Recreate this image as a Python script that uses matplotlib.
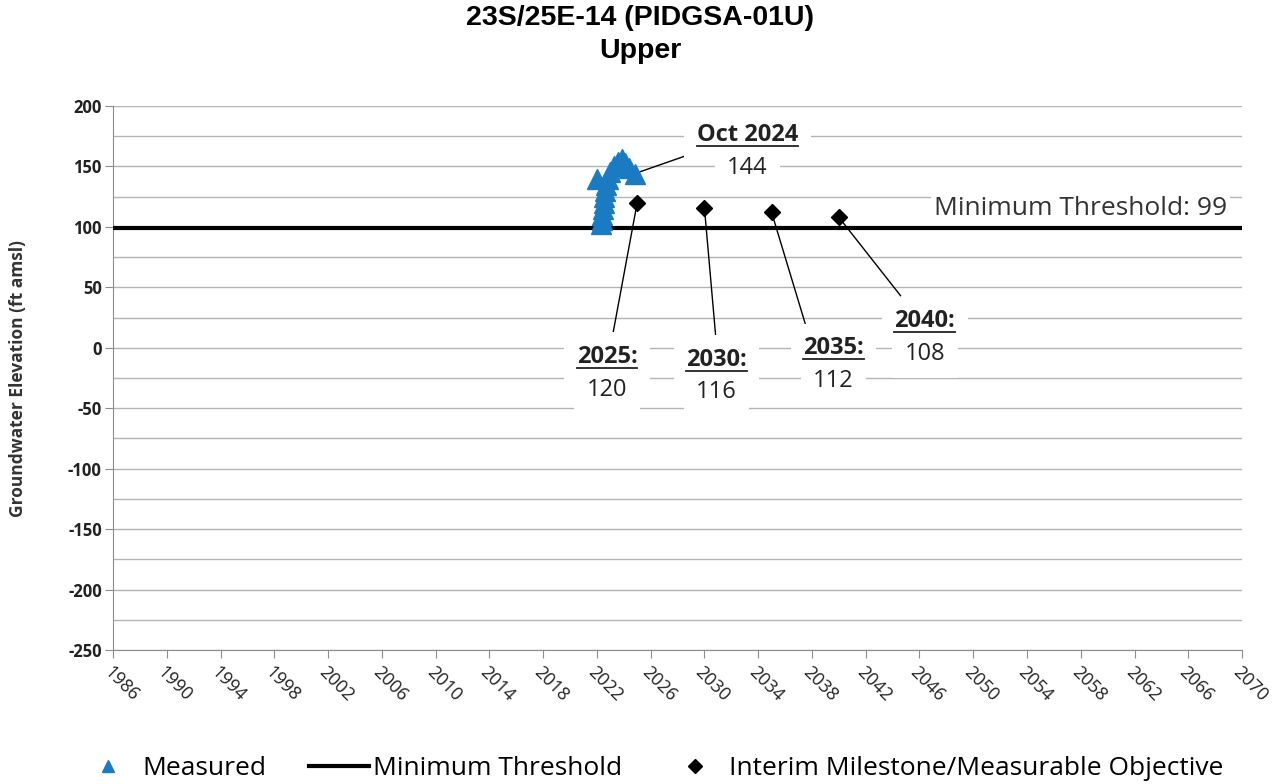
# groundwater_hydrograph.py
# ---------------------------------------------------------
# Hydrograph for 23S/25E-14 (PIDGSA-01U), Upper aquifer:
# measured levels, minimum threshold and interim milestones
# ---------------------------------------------------------

import matplotlib.pyplot as plt
from matplotlib.lines import Line2D
from matplotlib.ticker import MultipleLocator

plt.rcParams["axes.unicode_minus"] = False

# ── DATA ─────────────────────────────────────────────────
TITLE = "23S/25E-14 (PIDGSA-01U)\nUpper"

measured_years  = [2022.0, 2022.30, 2022.35, 2022.40, 2022.45, 2022.50, 2022.55,
                   2022.60, 2022.65, 2022.8, 2023.0, 2023.3, 2023.6, 2023.9,
                   2024.1, 2024.4, 2024.8]
measured_values = [140, 102, 106, 110, 115, 120, 125, 130, 135, 140, 145, 150,
                   154, 156, 153, 149, 144]

threshold = 99

milestone_years  = [2025, 2030, 2035, 2040]
milestone_values = [120, 116, 112, 108]

latest_label = "Oct 2024"
x_ticks = list(range(1986, 2071, 4))

# label anchors (label x, leader end y, line 1 y, line 2 y, leader end x)
latest_pos    = (2033.2, 163, 176, 149, 2029.7)
milestone_pos = [(2022.75, 6, -7.6, -35, 2023.1),
                 (2030.9, 2, -10, -36.5, 2030.9),
                 (2039.6, 20, -0.5, -27.5, 2037.5),
                 (2046.4, 43, 22, -5, 2044.6)]

BLUE = "#1b7bc2"
FONT = "Open Sans"
TXT = "#222222"

# ── PLOT ─────────────────────────────────────────────────
fig = plt.figure(figsize=(12.81, 7.84), dpi=100)
ax = fig.add_axes([0.0882, 0.1709, 0.8814, 0.6939])

ax.set_xlim(1986, 2070)
ax.set_ylim(-250, 200)
ax.set_xticks(x_ticks)
ax.yaxis.set_major_locator(MultipleLocator(50))
ax.yaxis.set_minor_locator(MultipleLocator(25))
ax.grid(axis="y", which="both", color="#b4b4b4", lw=1)
ax.set_axisbelow(True)

for s in ["top", "right"]:
    ax.spines[s].set_visible(False)
for s in ["left", "bottom"]:
    ax.spines[s].set_color("#8c8c8c")
ax.tick_params(axis="both", which="major", color="#8c8c8c", length=6)
ax.tick_params(axis="y", which="major", pad=2)
ax.tick_params(axis="y", which="minor", length=0)

ax.set_xticklabels([str(y) for y in x_ticks], rotation=-45, ha="left",
                   rotation_mode="anchor", fontsize=13, family=FONT, color=TXT)
for lab in ax.get_yticklabels():
    lab.set_fontfamily(FONT)
    lab.set_fontweight("bold")
    lab.set_fontsize(12)
    lab.set_color(TXT)

ax.set_ylabel("Groundwater Elevation (ft amsl)", family=FONT, fontweight="bold",
              fontsize=12.5, color="#333333")
ax.yaxis.set_label_coords(-0.076, 0.5)

fig.suptitle(TITLE, x=0.5, y=0.993, family="Liberation Sans", fontweight="bold",
             fontsize=20.5, linespacing=1.35)

# threshold line + label
ax.axhline(threshold, color="black", lw=3, zorder=3)
ax.text(2058.0, 115.6, f"Minimum Threshold: {threshold}", ha="center",
        va="center", fontsize=19, family=FONT, color="#333333",
        bbox=dict(fc="white", ec="none", pad=2), zorder=4)

# measured
ax.plot(measured_years, measured_values, ls="none", marker="^", ms=14,
        color=BLUE, zorder=5)

# milestones
ax.plot(milestone_years, milestone_values, ls="none", marker="D", ms=8,
        color="black", zorder=5)

underline = []

def label(x, y, lx, ly_end, ly1, ly2, title, value, tx):
    ax.annotate("", xy=(x, y), xytext=(tx, ly_end),
                arrowprops=dict(arrowstyle="-", color="black", lw=1,
                                shrinkA=0, shrinkB=4), zorder=4)
    t1 = ax.text(lx, ly1, title, ha="center", va="center", fontsize=17,
                 fontweight="bold", family=FONT, color=TXT,
                 bbox=dict(fc="white", ec="none", pad=9), zorder=6)
    ax.text(lx, ly2, value, ha="center", va="center", fontsize=17,
            family=FONT, color=TXT,
            bbox=dict(fc="white", ec="none", pad=9), zorder=6)
    underline.append(t1)

label(measured_years[-1], measured_values[-1], latest_pos[0], latest_pos[1],
      latest_pos[2], latest_pos[3], latest_label, str(measured_values[-1]),
      latest_pos[4])
for yr, val, pos in zip(milestone_years, milestone_values, milestone_pos):
    label(yr, val, pos[0], pos[1], pos[2], pos[3], f"{yr}:", str(val), pos[4])

# underline bold labels
fig.canvas.draw()
r = fig.canvas.get_renderer()
for t in underline:
    bb = t.get_window_extent(renderer=r)
    (x0, y0), (x1, _) = fig.transFigure.inverted().transform(
        [(bb.x0, bb.y0 + 1), (bb.x1, bb.y0)])
    fig.add_artist(Line2D([x0, x1], [y0, y0], color=TXT, lw=1.3,
                          transform=fig.transFigure, zorder=7))

# legend
handles = [
    Line2D([], [], ls="none", marker="^", ms=9, color=BLUE, label="Measured"),
    Line2D([], [], color="black", lw=3, label="Minimum Threshold"),
    Line2D([], [], ls="none", marker="D", ms=7, color="black",
           label="Interim Milestone/Measurable Objective"),
]
fig.legend(handles=handles, loc="lower center", bbox_to_anchor=(0.508, -0.027),
           ncol=3, frameon=False, prop=dict(family=FONT, size=19),
           handlelength=2.3, columnspacing=1.6, handletextpad=0.15)

fig.savefig("out.png", dpi=100)
